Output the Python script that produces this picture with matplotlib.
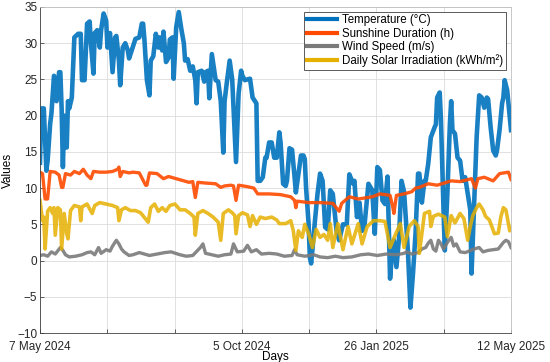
import matplotlib
matplotlib.use("Agg")
import matplotlib.pyplot as plt

plt.rcParams["font.family"] = ["Liberation Sans", "DejaVu Sans"]

# day index (0 = 7 May 2024, 370 = 12 May 2025) and values
temp_days = [0, 1, 3, 5, 6, 8, 9, 11, 12, 13, 15, 16, 17, 18, 19, 21, 22, 23, 25, 27,
             30, 32, 33, 35, 37, 39, 40, 42, 43, 45, 47, 48, 50, 52, 53, 55, 57, 59, 60, 62,
             63, 65, 67, 69, 70, 73, 75, 78, 80, 81, 82, 84, 86, 87, 89, 91, 93, 94, 96, 97,
             99, 101, 102, 104, 105, 107, 109, 111, 113, 114, 116, 118, 120, 122, 123, 124, 127, 129, 130, 132,
             133, 135, 136, 138, 140, 142, 144, 145, 147, 149, 151, 154, 156, 158, 159, 161, 163, 165, 167, 170,
             171, 173, 175, 177, 178, 180, 182, 184, 186, 188, 189, 191, 193, 194, 196, 198, 200, 201, 203, 205,
             207, 208, 209, 211, 212, 213, 214, 216, 218, 220, 222, 224, 226, 228, 230, 233, 235, 238, 241, 243,
             246, 247, 249, 251, 253, 255, 258, 261, 263, 265, 267, 269, 271, 273, 275, 277, 278, 280, 282, 284,
             286, 289, 291, 293, 295, 297, 298, 300, 302, 303, 305, 307, 310, 311, 312, 314, 315, 317, 318, 320,
             322, 323, 324, 326, 328, 330, 332, 334, 336, 338, 339, 340, 341, 343, 345, 347, 349, 351, 352, 354,
             356, 358, 359, 361, 363, 364, 365, 367, 368, 370]
temp_vals = [13.5, 21, 21, 12.4, 13.8, 18.9, 20.3, 25.5, 25, 22, 26, 26, 21, 12.9, 20, 15.6, 22, 21, 22.5, 30.8,
             31.3, 31.3, 24.9, 24.9, 32.7, 33, 30, 25.8, 31.4, 31.8, 29.4, 31.8, 34.1, 33.1, 29.4, 31.4, 26, 30.8, 31, 27.6,
             24.2, 29.4, 30, 29, 27.9, 29.5, 30.6, 30.8, 32.7, 32.7, 30.6, 24.9, 22.8, 27.6, 28.2, 31.3, 29.4, 30.8, 29, 31.6,
             27.4, 28, 30.5, 30.8, 25.1, 32.2, 34.3, 32, 30, 27.6, 27.8, 26.2, 26.8, 24.9, 21.7, 26, 26.2, 24.7, 26, 26.2,
             22.4, 28.5, 27.3, 24.9, 24.7, 22, 14.9, 22, 24.9, 27.6, 25, 13.6, 23, 26.2, 25.5, 24.9, 25, 25.1, 22.5, 21.7,
             11, 11, 11.5, 14.2, 14.2, 16.3, 16.3, 14.2, 14.2, 17.7, 16.3, 10.6, 10.3, 11, 15.5, 15.3, 11.5, 9.4, 12, 14.5,
             14.5, 14, 10.1, 5.1, 0.4, -0.4, 1.5, 5.5, 9.2, 12, 11, 4.6, 4.3, 9.7, 9.2, 4.1, 2.8, 5, 5, 11.9,
             10.6, 11, 6, 8, 4.1, 5, 10.6, 9.7, 3.7, 12.9, 12.5, 8.3, 7.8, 11.6, -2.5, 2, 2.8, -0.9, 3, 11,
             9.5, 1.4, -6.5, -1.8, 3.7, 12, 12, 8, 11, 11, 13.4, 17, 18.4, 18.8, 22.5, 23.2, 19.3, 6.9, 1.4, 9.2,
             18.9, 22, 18, 17.5, 14.2, 13.8, 11, 11.5, 9.2, 7, -1.8, 3, 7.8, 17, 22.8, 22.5, 21.1, 22.5, 22.3, 18.4,
             15.2, 14.5, 15.2, 18, 21.7, 22.5, 24.9, 23.5, 21.7, 18]

sun_days = [0, 2, 4, 6, 8, 12, 15, 17, 18, 20, 24, 27, 31, 34, 37, 40, 42, 47, 52, 57,
            61, 62, 63, 65, 70, 73, 78, 83, 84, 86, 92, 97, 101, 105, 113, 117, 120, 122, 124, 130,
            138, 142, 145, 150, 152, 154, 156, 163, 168, 171, 180, 189, 197, 200, 201, 202, 211, 220, 230, 235,
            237, 243, 250, 261, 267, 275, 277, 278, 280, 286, 292, 295, 298, 305, 312, 323, 330, 339, 342, 344,
            349, 356, 361, 368, 370]
sun_vals = [12.2, 12, 8.5, 8.5, 12.3, 12.2, 11.8, 10.1, 10.1, 12, 11.8, 12.3, 12, 12.6, 11.8, 11.3, 12.3, 12.2, 12.2, 12.3,
            12.6, 12.9, 11.6, 12.3, 12.1, 12.2, 12.1, 10.4, 10.4, 12.1, 12, 11.3, 11.6, 11.4, 11, 10.8, 10.9, 8.7, 10.8, 10.7,
            10.6, 10.1, 10.3, 10.4, 10.3, 8.3, 10.4, 10.2, 10, 9.2, 9.2, 9.1, 8.8, 8.3, 7.3, 8.2, 8, 8, 7.9, 6.8,
            7.9, 8.8, 8.5, 8.8, 9.2, 9, 7.5, 6.5, 9, 9.2, 9.5, 10, 10.1, 10.6, 10.4, 11, 10.9, 11.3, 10, 11.3,
            11.5, 11, 12, 12.2, 11.2]

wind_days = [0, 3, 6, 9, 12, 16, 18, 20, 23, 28, 33, 37, 40, 43, 46, 48, 52, 55, 57, 60,
             62, 64, 66, 70, 73, 78, 82, 86, 92, 98, 103, 110, 115, 120, 126, 128, 130, 135, 140, 145,
             150, 152, 155, 160, 163, 166, 170, 174, 180, 186, 192, 198, 200, 202, 208, 215, 220, 226, 232, 238,
             245, 252, 258, 265, 272, 280, 286, 288, 292, 297, 300, 303, 305, 307, 309, 311, 313, 315, 317, 320,
             323, 325, 327, 330, 334, 337, 341, 345, 348, 352, 356, 360, 364, 366, 368, 370]
wind_vals = [0.7, 0.8, 0.6, 1.2, 0.9, 1.8, 1.4, 0.8, 0.5, 0.6, 0.8, 1.1, 1.2, 0.8, 1.8, 1.0, 1.5, 1.3, 2.0, 2.8,
             2.3, 1.6, 1.2, 0.7, 0.8, 1.1, 0.9, 0.7, 0.9, 1.1, 1.2, 0.8, 0.6, 0.7, 1.8, 2.3, 1.0, 0.8, 0.6, 0.8,
             0.9, 2.3, 1.2, 1.3, 2.1, 1.2, 1.5, 0.9, 1.0, 0.9, 0.6, 0.7, 1.5, 0.8, 0.6, 0.8, 0.5, 0.4, 0.6, 0.4,
             0.5, 0.8, 0.9, 0.7, 0.9, 0.8, 1.0, 1.2, 0.9, 1.1, 1.6, 1.8, 2.4, 2.8, 1.6, 1.3, 2.8, 2.3, 1.6, 2.5,
             3.2, 2.0, 2.3, 1.2, 1.1, 1.3, 1.6, 1.8, 1.2, 1.4, 1.5, 1.6, 2.5, 2.8, 2.6, 1.8]

solar_days = [0, 2, 3, 4, 6, 8, 10, 11, 12, 14, 16, 17, 19, 21, 22, 24, 27, 31, 32, 33,
              37, 41, 43, 47, 52, 57, 61, 62, 64, 67, 71, 75, 79, 85, 87, 90, 93, 96, 99, 102,
              106, 110, 114, 118, 121, 122, 124, 128, 132, 136, 140, 142, 144, 148, 151, 153, 154, 156, 159, 163,
              165, 167, 170, 173, 177, 182, 186, 188, 193, 197, 199, 201, 203, 206, 208, 211, 214, 217, 220, 223,
              226, 228, 230, 234, 238, 242, 245, 250, 253, 257, 262, 267, 271, 275, 279, 283, 286, 290, 294, 297,
              298, 302, 306, 307, 309, 313, 318, 320, 323, 326, 330, 333, 336, 338, 340, 343, 345, 348, 350, 353,
              357, 360, 362, 364, 366, 369, 370]
solar_vals = [8.3, 5.5, 6, 1.6, 6.8, 7.3, 6.5, 7.3, 3.5, 7.3, 7, 1.6, 6.5, 3.7, 3.0, 6.9, 7.6, 7.4, 5.5, 7.4,
              7.8, 6.5, 7.6, 8, 7.8, 7.6, 7.3, 5.5, 7.0, 7.3, 6.9, 6.9, 6.6, 5.3, 7.3, 7.8, 6.8, 7.3, 6.8, 7.6,
              7.8, 7.0, 7.0, 6.5, 6.0, 3.5, 6.5, 6.9, 6.5, 6.0, 5.3, 2.8, 6.5, 7.0, 6.6, 6.2, 3.7, 6.2, 6.6, 6.3,
              4.7, 6.2, 5, 6, 5.8, 6.0, 5.6, 5.1, 5.1, 5.5, 4.1, 1.4, 4.1, 3.2, 5.0, 3.7, 1.8, 4.3, 3.2, 3.6,
              2.8, 5.1, 1.8, 5.1, 1.5, 4.7, 2.3, 5.1, 2.3, 4.7, 5.5, 5.5, 5.4, 1.8, 3.5, 5.1, 1.8, 4.7, 5.5, 4.7,
              1.0, 6.5, 6.8, 4.7, 6.1, 6.4, 6.0, 3.3, 6.2, 5.2, 6.5, 5.8, 2.8, 4.7, 6.2, 7.3, 7.8, 7.0, 6.1, 5.6,
              3.7, 3.8, 6, 7.3, 7.0, 4.1, 4.5]

n_days = 370
tick_labels = ["7 May 2024", "", "", "5 Oct 2024", "", "26 Jan 2025", "", "12 May 2025"]

fig = plt.figure(figsize=(5.5, 3.62), dpi=100)
ax = fig.add_axes([0.0727, 0.0801, 0.8564, 0.9006])

ax.plot(temp_days, temp_vals, color="#0072BD", lw=3.3, alpha=0.9, label="Temperature (°C)")
ax.plot(sun_days, sun_vals, color="#FF4A00", lw=2.4, alpha=0.9, label="Sunshine Duration (h)")
ax.plot(wind_days, wind_vals, color="#7A7A7A", lw=2.4, alpha=0.9, label="Wind Speed (m/s)")
ax.plot(solar_days, solar_vals, color="#E6B000", lw=2.6, alpha=0.85, label="Daily Solar Irradiation (kWh/m²)")

ax.set_xlim(0, n_days)
ax.set_ylim(-10, 35)
ax.set_yticks(range(-10, 36, 5))
ax.set_xticks([n_days * k / 7 for k in range(8)])
ax.set_xticklabels(tick_labels)
ax.tick_params(direction="in", length=3, width=0.5, labelsize=8.5, colors="#262626", pad=2)
ax.tick_params(axis="x", pad=5.5)
ax.grid(True, color="#DCDCDC", lw=0.6)
ax.set_axisbelow(True)
for side in ["left", "bottom"]:
    ax.spines[side].set_color("#404040")
    ax.spines[side].set_linewidth(0.6)
for side in ["top", "right"]:
    ax.spines[side].set_color("#BFBFBF")
    ax.spines[side].set_linewidth(0.6)

ax.set_xlabel("Days", fontsize=8.5, labelpad=-1)
ax.set_ylabel("Values", fontsize=8.5, labelpad=2)

leg = ax.legend(loc="upper right", fontsize=8.3, handlelength=2.6, labelspacing=0.1,
                borderaxespad=0.4, borderpad=0.25, handletextpad=0.5, fancybox=False, framealpha=1)
leg.get_frame().set_edgecolor("#404040")
leg.get_frame().set_linewidth(0.6)
for line in leg.get_lines():
    line.set_alpha(1)
    line.set_linewidth(3)

fig.savefig("out.png", dpi=100)
